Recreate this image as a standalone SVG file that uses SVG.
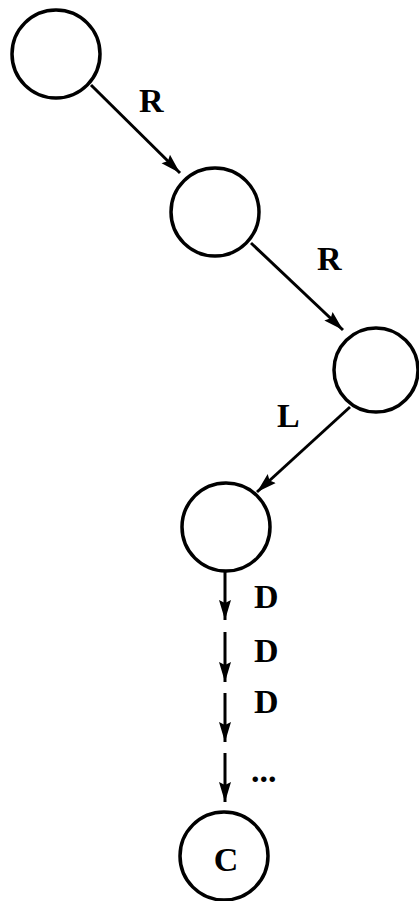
<svg xmlns="http://www.w3.org/2000/svg" width="419" height="901" viewBox="0 0 419 901">
<style>
.node{fill:none;stroke:#000;stroke-width:3.5}
.edge{stroke:#000;stroke-width:3;fill:none}
.lbl{font-family:"Liberation Serif","DejaVu Serif",serif;font-weight:bold;font-size:34px;fill:#000}
</style>
<defs>
<marker id="ah" markerUnits="userSpaceOnUse" markerWidth="22" markerHeight="14" refX="20" refY="7" orient="auto">
<path d="M0,1 L20,7 L0,13 L3,7 Z" fill="#000"/>
</marker>
</defs>
<rect width="419" height="901" fill="#fff"/>
<g id="connectors">
<line class="edge" x1="91" y1="85" x2="180" y2="173" marker-end="url(#ah)"/>
<line class="edge" x1="251" y1="243" x2="343" y2="330" marker-end="url(#ah)"/>
<line class="edge" x1="350" y1="407" x2="257" y2="492" marker-end="url(#ah)"/>
<line class="edge" x1="225" y1="572" x2="225" y2="620" marker-end="url(#ah)"/>
<line class="edge" x1="225" y1="632" x2="225" y2="682" marker-end="url(#ah)"/>
<line class="edge" x1="225" y1="693" x2="225" y2="742" marker-end="url(#ah)"/>
<line class="edge" x1="225" y1="753" x2="225" y2="802" marker-end="url(#ah)"/>
<text class="lbl" x="139" y="112">R</text>
<text class="lbl" x="317" y="270">R</text>
<text class="lbl" x="277" y="427">L</text>
<text class="lbl" x="254" y="608">D</text>
<text class="lbl" x="254" y="662">D</text>
<text class="lbl" x="254" y="713">D</text>
<text class="lbl" x="251" y="782">...</text>
</g>
<g id="n1"><circle class="node" cx="56" cy="54" r="44"/></g>
<g id="n2"><circle class="node" cx="215" cy="212" r="44"/></g>
<g id="n3"><circle class="node" cx="376" cy="370" r="42"/></g>
<g id="n4"><circle class="node" cx="226" cy="527" r="44"/></g>
<g id="nC"><circle class="node" cx="224" cy="856" r="44"/><text class="lbl" x="226" y="871" text-anchor="middle">C</text></g>
</svg>
